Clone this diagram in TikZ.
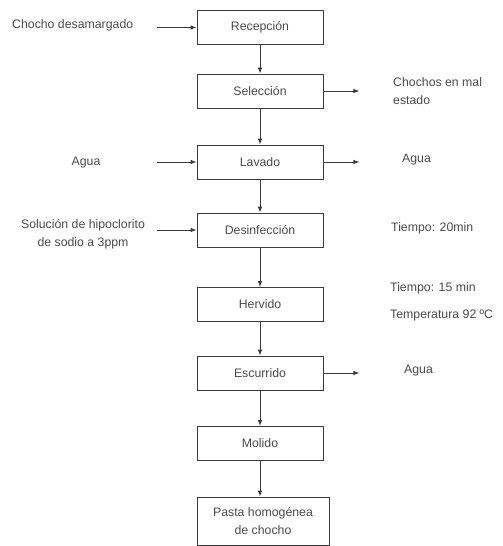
\documentclass[tikz,border=0pt]{standalone}
\usepackage{fontspec}
\setmainfont{Liberation Sans}
\usepackage{xcolor}
\usetikzlibrary{arrows.meta}
\definecolor{ink}{HTML}{3A3A3A}
\definecolor{txt}{HTML}{4A4A4A}
\tikzset{proc/.style={draw=ink,line width=0.8pt,minimum width=126pt,minimum height=34pt,inner sep=0pt,text=txt,font=\fontsize{12.3}{17.5}\selectfont,align=center},
  flow/.style={draw=ink,line width=0.8pt,-{Latex[length=6pt,width=4.5pt]}},
  lbl/.style={text=txt,font=\fontsize{12.3}{17.5}\selectfont,inner sep=0pt}}

\begin{document}
\begin{tikzpicture}[x=1pt,y=-1pt]
\useasboundingbox (0,0) rectangle (503,546);
% process steps
\node[proc] (rec) at (260,27.5) {Recepción};
\node[proc] (sel) at (260,91) {Selección};
\node[proc] (lav) at (260,162) {Lavado};
\node[proc] (des) at (260,230) {Desinfección};
\node[proc] (her) at (260,304.5) {Hervido};
\node[proc] (esc) at (260,373) {Escurrido};
\node[proc] (mol) at (260,443.5) {Molido};
\node[proc,minimum width=132pt,minimum height=48pt] (pas) at (263,521) {Pasta homogénea\\de chocho};
\draw[flow] (rec) -- (sel); \draw[flow] (sel) -- (lav); \draw[flow] (lav) -- (des); \draw[flow] (des) -- (her);
\draw[flow] (her) -- (esc); \draw[flow] (esc) -- (mol); \draw[flow] (mol.south) -- (mol.south |- pas.north);
% inputs
\node[lbl,anchor=west] (choc) at (12,25) {Chocho desamargado};
\node[lbl] (aguain) at (86,163) {Agua};
\node[lbl,align=center] (sol) at (83,234) {Solución de hipoclorito\\de sodio a 3ppm};
\coordinate (inrec) at ([xshift=-40pt]rec.west); \coordinate (inlav) at ([xshift=-40pt]lav.west); \coordinate (indes) at ([xshift=-40pt]des.west);
\draw[flow] (inrec) -- (rec.west); \draw[flow] (inlav) -- (lav.west); \draw[flow] (indes) -- (des.west);
% outputs and conditions
\coordinate (outsel) at ([xshift=36pt]sel.east); \coordinate (outlav) at ([xshift=36pt]lav.east); \coordinate (outesc) at ([xshift=36pt]esc.east);
\draw[flow] (sel.east) -- (outsel); \draw[flow] (lav.east) -- (outlav); \draw[flow] (esc.east) -- (outesc);
\node[lbl,anchor=west,align=left] (malo) at (393,91) {Chochos en mal\\estado};
\node[lbl,anchor=west] (aguaout) at (402,160) {Agua};
\node[lbl,anchor=west] (t20) at (391,228) {Tiempo: 20min};
\node[lbl,anchor=west] (t15) at (390,288) {Tiempo: 15 min};
\node[lbl,anchor=west] (temp) at (390,315) {Temperatura 92 ºC};
\node[lbl,anchor=west] (aguaesc) at (404,371) {Agua};
\end{tikzpicture}
\end{document}
